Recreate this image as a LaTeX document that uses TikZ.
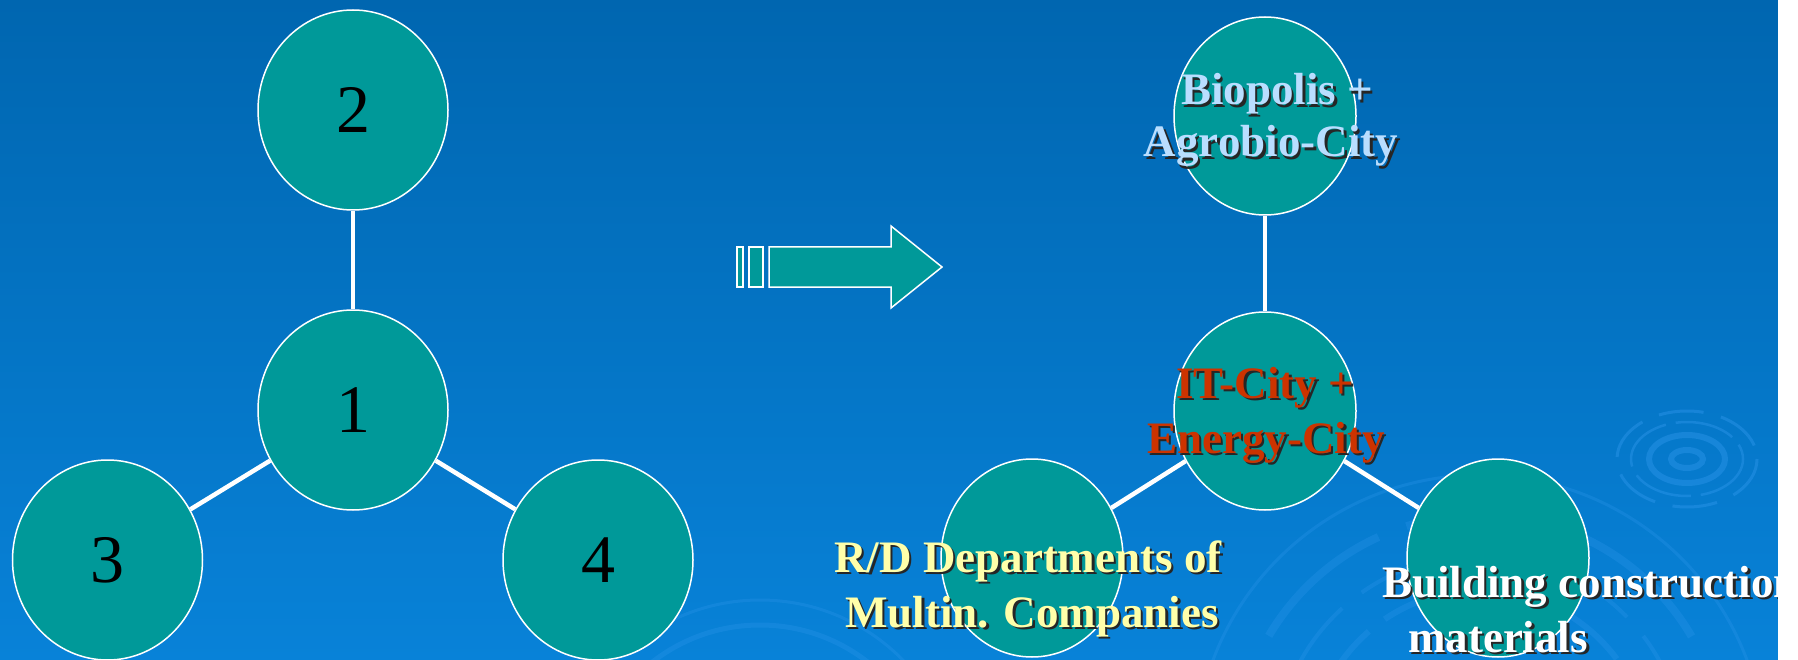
\documentclass[tikz,border=0pt]{standalone}
\usepackage{fontspec}
\setmainfont{Liberation Serif}
\usetikzlibrary{shapes.geometric}
\pgfdeclarelayer{bg}
\pgfdeclarelayer{links}
\pgfsetlayers{bg,links,main}
\definecolor{bgtop}{RGB}{0,102,176}
\definecolor{bgmid}{RGB}{0,110,190}
\definecolor{bgbot}{RGB}{8,130,216}
\definecolor{nodeteal}{RGB}{0,153,153}
\definecolor{biotxt}{RGB}{185,222,255}
\definecolor{ittxt}{RGB}{204,51,0}
\definecolor{rdtxt}{RGB}{255,255,170}
\definecolor{ripplecol}{RGB}{45,150,235}
\tikzset{
  blob/.style={ellipse, draw=white, line width=1.5pt, fill=nodeteal, inner sep=0pt},
  leftblob/.style={blob, minimum width=190pt, minimum height=200pt, font=\fontsize{68}{70}\selectfont},
  rightblob/.style={blob, minimum width=182pt, minimum height=198pt},
  link/.style={draw=white, line width=4.5pt},
  lbl/.style={inner sep=0pt, font=\fontsize{45}{52}\selectfont\bfseries},
  arrowpart/.style={fill=nodeteal, draw=white, line width=1.5pt},
  ripple/.style={draw=ripplecol, opacity=0.45}
}
% name, anchor, x, y, colour, text
\newcommand{\shadowlabel}[6]{%
  \node[lbl, anchor=#2, text=black!85] (#1s) at (#3+2.5,#4+2.5) {#6};
  \node[lbl, anchor=#2, text=#5] (#1) at (#3,#4) {#6};}
\begin{document}
\begin{tikzpicture}[x=1pt, y=-1pt]
\useasboundingbox (0,0) rectangle (1798,660);
\begin{pgfonlayer}{bg}
  \shade[top color=bgtop, middle color=bgmid, bottom color=bgbot] (0,0) rectangle (1798,660);
  % ripple at right
  \draw[ripple, line width=6pt] (1687,459) ellipse [x radius=16, y radius=9];
  \draw[ripple, line width=6pt] (1687,459) ellipse [x radius=38, y radius=24];
  \draw[ripple, line width=2.5pt, dash pattern=on 60pt off 10pt] (1687,459) ellipse [x radius=56, y radius=37];
  \draw[ripple, line width=3pt, dash pattern=on 45pt off 18pt] (1687,459) ellipse [x radius=70, y radius=48];
  % large ripple at bottom
  \draw[ripple, line width=6pt, opacity=0.3, dash pattern=on 120pt off 20pt] (1480,760) circle [radius=170];
  \draw[ripple, line width=4pt, opacity=0.3, dash pattern=on 80pt off 25pt] (1480,760) circle [radius=205];
  \draw[ripple, line width=8pt, opacity=0.3, dash pattern=on 150pt off 30pt] (1480,760) circle [radius=245];
  \draw[ripple, line width=3pt, opacity=0.3] (1480,760) circle [radius=285];
  % faint ripple bottom left
  \draw[ripple, line width=5pt, opacity=0.3] (760,800) circle [radius=175];
  \draw[ripple, line width=3pt, opacity=0.3] (760,800) circle [radius=200];
\end{pgfonlayer}

% left graph
\node[leftblob] (n2) at (353,110) {2};
\node[leftblob] (n1) at (353,410) {1};
\node[leftblob] (n3) at (107.5,560) {3};
\node[leftblob] (n4) at (598,560) {4};

% right graph
\node[rightblob] (bio) at (1265,116) {};
\node[rightblob] (it) at (1265,411) {};
\node[rightblob] (rd) at (1032,558) {};
\node[rightblob] (bld) at (1498,558) {};

\begin{pgfonlayer}{links}
  \draw[link] (n2) -- (n1);
  \draw[link] (n1) -- (n3);
  \draw[link] (n1) -- (n4);
  \draw[link] (bio) -- (it);
  \draw[link] (it) -- (rd);
  \draw[link] (it) -- (bld);
\end{pgfonlayer}

% block arrow
\draw[arrowpart] (737,247) rectangle (743,287);
\draw[arrowpart] (749,247) rectangle (763,287);
\draw[arrowpart] (769,247) -- (891,247) -- (891,226) -- (942,267) -- (891,308) -- (891,287) -- (769,287) -- cycle;

% labels
\shadowlabel{bioa}{base}{1277}{105}{biotxt}{Biopolis +}
\shadowlabel{biob}{base}{1271}{157}{biotxt}{Agrobio-City}
\shadowlabel{ita}{base}{1265}{398}{ittxt}{IT-City +}
\shadowlabel{itb}{base}{1266}{453}{ittxt}{Energy-City}
\shadowlabel{rda}{base}{1028}{572}{rdtxt}{R/D Departments of}
\shadowlabel{rdb}{base}{1032}{627}{rdtxt}{Multin. Companies}
\shadowlabel{blda}{base west}{1382}{597}{white}{Building construction}
\shadowlabel{bldb}{base}{1498}{652}{white}{materials}

% white strip at right edge
\fill[white] (1778,-5) rectangle (1810,670);
\end{tikzpicture}
\end{document}
